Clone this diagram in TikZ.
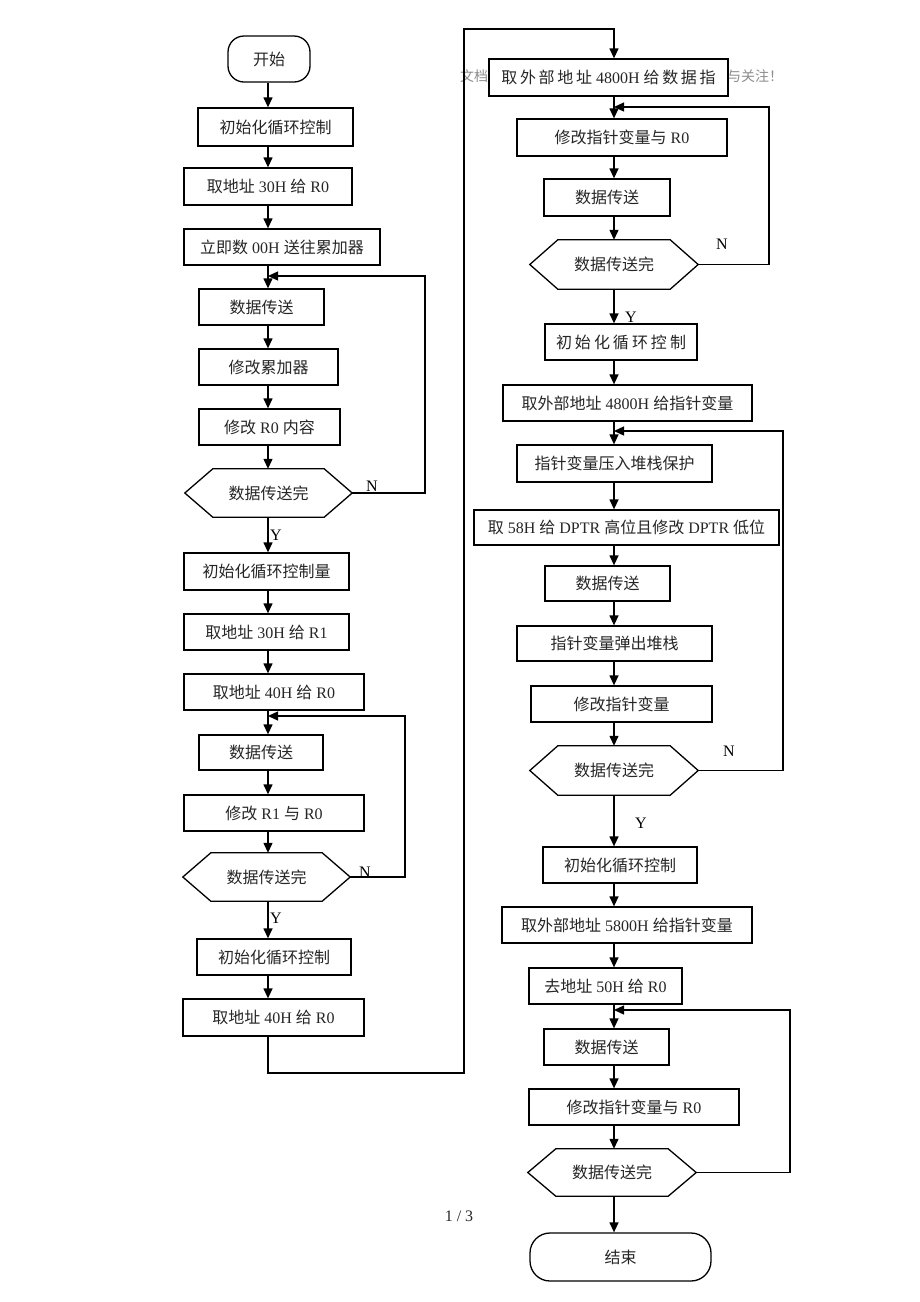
\documentclass[tikz,border=0pt]{standalone}
\usepackage{fontspec}
\setmainfont{Liberation Serif}
\newfontfamily\cjkfont{Noto Sans CJK SC}
\newcommand\zh[1]{{\cjkfont #1}}
\usetikzlibrary{arrows.meta}
\tikzset{
  box/.style={draw, fill=white, line width=1.3pt, inner sep=0pt, font=\fontsize{16}{18}\selectfont, text=black!85},
  hexnode/.style={inner sep=0pt, font=\fontsize{16}{18}\selectfont, text=black!85},
  term/.style={draw, line width=1.3pt, inner sep=0pt, font=\fontsize{16}{18}\selectfont, text=black!85},
  lab/.style={font=\fontsize{16}{18}\selectfont, inner sep=0pt},
  arr/.style={line width=1.3pt, -{Triangle[length=10pt,width=9pt]}},
  ln/.style={line width=1.3pt},
}
\newcommand\hexa[1]{\draw[line width=1.3pt] (#1.west) -- ([xshift=28pt]#1.north west) -- ([xshift=-28pt]#1.north east) -- (#1.east) -- ([xshift=-28pt]#1.south east) -- ([xshift=28pt]#1.south west) -- cycle;}
\begin{document}
\begin{tikzpicture}[x=1pt,y=-1pt]
\useasboundingbox[fill=white] (0,0) rectangle (920,1302);
\coordinate (L) at (268,0);
\coordinate (R) at (614,0);

% watermark and page number
\node[text=black!45, font=\fontsize{14}{16}\selectfont\cjkfont] (w1) at (474,76) {文档};
\node[text=black!45, font=\fontsize{14}{16}\selectfont\cjkfont] (w2) at (755,76) {与关注！};
\node[font=\fontsize{16}{18}\selectfont, text=black!85] (pg) at (459,1216) {1 / 3};

% left column
\node[term, rounded corners=16pt, minimum width=82, minimum height=46] (s0) at (269,59) {\zh{开始}};
\node[box, minimum width=155, minimum height=38] (b1) at (275.5,127) {\zh{初始化循环控制}};
\node[box, minimum width=168, minimum height=37] (b2) at (268,186.5) {\zh{取地址} 30H \zh{给} R0};
\node[box, minimum width=196, minimum height=36] (b3) at (282,247) {\zh{立即数} 00H \zh{送往累加器}};
\node[box, minimum width=125, minimum height=36] (b4) at (261.5,307) {\zh{数据传送}};
\node[box, minimum width=139, minimum height=36] (b5) at (268.5,367) {\zh{修改累加器}};
\node[box, minimum width=141, minimum height=36] (b6) at (269.5,427) {\zh{修改} R0 \zh{内容}};
\node[hexnode, minimum width=167, minimum height=48] (d1) at (268.5,493) {\zh{数据传送完}};
\hexa{d1}
\node[box, minimum width=165, minimum height=37] (b7) at (266.5,571.5) {\zh{初始化循环控制量}};
\node[box, minimum width=165, minimum height=36] (b8) at (266.5,632) {\zh{取地址} 30H \zh{给} R1};
\node[box, minimum width=180, minimum height=36] (b9) at (274,692) {\zh{取地址} 40H \zh{给} R0};
\node[box, minimum width=124, minimum height=35] (b10) at (261,752.5) {\zh{数据传送}};
\node[box, minimum width=180, minimum height=36] (b11) at (274,813) {\zh{修改} R1 \zh{与} R0};
\node[hexnode, minimum width=167, minimum height=48] (d2) at (266.5,877) {\zh{数据传送完}};
\hexa{d2}
\node[box, minimum width=154, minimum height=36] (b12) at (274,957) {\zh{初始化循环控制}};
\node[box, minimum width=181, minimum height=37] (b13) at (273.5,1017.5) {\zh{取地址} 40H \zh{给} R0};

% right column
\node[box, minimum width=239, minimum height=37] (r1) at (608.5,77.5) {\zh{取\,外\,部\,地\,址} 4800H \zh{给\,数\,据\,指}};
\node[box, minimum width=210, minimum height=37] (r2) at (622,137.5) {\zh{修改指针变量与} R0};
\node[box, minimum width=126, minimum height=37] (r3) at (607,197.5) {\zh{数据传送}};
\node[hexnode, minimum width=168, minimum height=49] (d3) at (614,264.5) {\zh{数据传送完}};
\hexa{d3}
\node[box, minimum width=152, minimum height=36] (r4) at (621,342) {\zh{初\hspace{3pt}始\hspace{3pt}化\hspace{3pt}循\hspace{3pt}环\hspace{3pt}控\hspace{3pt}制}};
\node[box, minimum width=249, minimum height=36] (r5) at (627.5,403) {\zh{取外部地址} 4800H \zh{给指针变量}};
\node[box, minimum width=195, minimum height=37] (r6) at (614.5,463.5) {\zh{指针变量压入堆栈保护}};
\node[box, minimum width=305, minimum height=35] (r7) at (626.5,527.5) {\zh{取} 58H \zh{给} DPTR \zh{高位且修改} DPTR \zh{低位}};
\node[box, minimum width=125, minimum height=35] (r8) at (607.5,583.5) {\zh{数据传送}};
\node[box, minimum width=195, minimum height=35] (r9) at (614.5,643.5) {\zh{指针变量弹出堆栈}};
\node[box, minimum width=181, minimum height=36] (r10) at (621.5,704) {\zh{修改指针变量}};
\node[hexnode, minimum width=168, minimum height=49] (d4) at (614,770.5) {\zh{数据传送完}};
\hexa{d4}
\node[box, minimum width=154, minimum height=36] (r11) at (620,865) {\zh{初始化循环控制}};
\node[box, minimum width=250, minimum height=36] (r12) at (627,925) {\zh{取外部地址} 5800H \zh{给指针变量}};
\node[box, minimum width=153, minimum height=36] (r13) at (605.5,986) {\zh{去地址} 50H \zh{给} R0};
\node[box, minimum width=125, minimum height=36] (r14) at (606.5,1047) {\zh{数据传送}};
\node[box, minimum width=210, minimum height=36] (r15) at (634,1107) {\zh{修改指针变量与} R0};
\node[hexnode, minimum width=168, minimum height=47] (d5) at (612,1172.5) {\zh{数据传送完}};
\hexa{d5}
\node[term, rounded corners=20pt, minimum width=181, minimum height=48] (e) at (620.5,1257) {\zh{结束}};

% labels
\node[lab] (y1) at (276,535) {Y};
\node[lab] (n1) at (372,486) {N};
\node[lab] (n2) at (365,872) {N};
\node[lab] (y2) at (276,918) {Y};
\node[lab] (n3) at (722,244) {N};
\node[lab] (y3) at (631,317) {Y};
\node[lab] (n4) at (729,751) {N};
\node[lab] (y4) at (641,823) {Y};

% loop coordinates
\coordinate (m1) at (268,276); \coordinate (l1) at (425,276);
\coordinate (m2) at (268,716); \coordinate (l2) at (405,716);
\coordinate (m3) at (614,107); \coordinate (l3) at (769,107);
\coordinate (m4) at (614,431); \coordinate (l4) at (783,431);
\coordinate (m5) at (614,1010); \coordinate (l5) at (790,1010);
\coordinate (c1) at (464,1073); \coordinate (c2) at (464,29);

% left connectors
\draw[arr] (s0.south -| L) -- (b1.north -| L);
\draw[arr] (b1.south -| L) -- (b2.north -| L);
\draw[arr] (b2.south -| L) -- (b3.north -| L);
\draw[arr] (b3.south -| L) -- (b4.north -| L);
\draw[arr] (b4.south -| L) -- (b5.north -| L);
\draw[arr] (b5.south -| L) -- (b6.north -| L);
\draw[arr] (b6.south -| L) -- (d1.north -| L);
\draw[arr] (d1.south -| L) -- (b7.north -| L);
\draw[arr] (b7.south -| L) -- (b8.north -| L);
\draw[arr] (b8.south -| L) -- (b9.north -| L);
\draw[arr] (b9.south -| L) -- (b10.north -| L);
\draw[arr] (b10.south -| L) -- (b11.north -| L);
\draw[arr] (b11.south -| L) -- (d2.north -| L);
\draw[arr] (d2.south -| L) -- (b12.north -| L);
\draw[arr] (b12.south -| L) -- (b13.north -| L);
\draw[arr] (d1.east) -| (l1) -- (m1);
\draw[arr] (d2.east) -| (l2) -- (m2);
\draw[arr] (b13.south -| L) |- (c1) -- (c2) -| (r1.north -| R);

% right connectors
\draw[arr] (r1.south -| R) -- (r2.north -| R);
\draw[arr] (r2.south -| R) -- (r3.north -| R);
\draw[arr] (r3.south -| R) -- (d3.north -| R);
\draw[arr] (d3.south -| R) -- (r4.north -| R);
\draw[arr] (r4.south -| R) -- (r5.north -| R);
\draw[arr] (r5.south -| R) -- (r6.north -| R);
\draw[arr] (r6.south -| R) -- (r7.north -| R);
\draw[arr] (r7.south -| R) -- (r8.north -| R);
\draw[arr] (r8.south -| R) -- (r9.north -| R);
\draw[arr] (r9.south -| R) -- (r10.north -| R);
\draw[arr] (r10.south -| R) -- (d4.north -| R);
\draw[arr] (d4.south -| R) -- (r11.north -| R);
\draw[arr] (r11.south -| R) -- (r12.north -| R);
\draw[arr] (r12.south -| R) -- (r13.north -| R);
\draw[arr] (r13.south -| R) -- (r14.north -| R);
\draw[arr] (r14.south -| R) -- (r15.north -| R);
\draw[arr] (r15.south -| R) -- (d5.north -| R);
\draw[arr] (d5.south -| R) -- (e.north -| R);
\draw[arr] (d3.east) -| (l3) -- (m3);
\draw[arr] (d4.east) -| (l4) -- (m4);
\draw[arr] (d5.east) -| (l5) -- (m5);
\end{tikzpicture}
\end{document}
